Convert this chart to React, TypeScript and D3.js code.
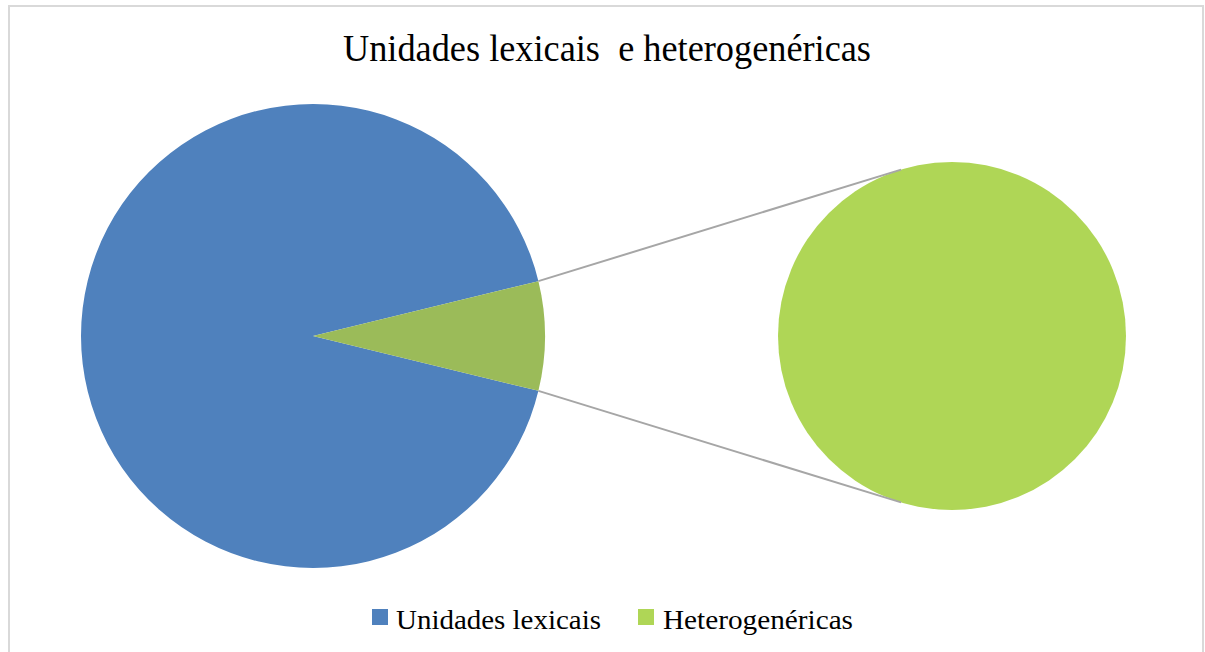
import React from "react";
import * as d3 from "d3";

const categories = ["Unidades lexicais", "Heterogenéricas"];
const values = [92.4, 7.6];
const secondaryValues = [7.6];
const title = "Unidades lexicais  e heterogenéricas";

const W = 1205;
const H = 652;
const BLUE = "#4f81bd";
const GREEN_MAIN = "#9bbb59";
const GREEN_SEC = "#afd656";

export default function App() {
  const total = d3.sum(values);
  const f = values[1] / total;
  const main = { cx: 313, cy: 336, r: 232 };
  const sec = { cx: 952, cy: 336, r: 174 };

  const start = Math.PI / 2 - Math.PI * f;
  const pieGen = d3
    .pie<number>()
    .sort(null)
    .value((d) => d)
    .startAngle(start)
    .endAngle(start + 2 * Math.PI);
  const arcs = pieGen([values[1], values[0]]);
  const arcMain = d3.arc<d3.PieArcDatum<number>>().innerRadius(0).outerRadius(main.r);

  const secArcs = d3.pie<number>().sort(null).value((d) => d)(secondaryValues);
  const arcSec = d3.arc<d3.PieArcDatum<number>>().innerRadius(0).outerRadius(sec.r);

  const greenArc = arcs[0];
  const pt = (c: { cx: number; cy: number; r: number }, a: number) => [
    c.cx + c.r * Math.sin(a),
    c.cy - c.r * Math.cos(a),
  ];
  const p1 = pt(main, greenArc.startAngle);
  const p2 = pt(main, greenArc.endAngle);
  const a = (17 * Math.PI) / 180;
  const q1 = pt(sec, -a);
  const q2 = pt(sec, Math.PI + a);

  const colors = [BLUE, GREEN_SEC];

  return (
    <svg
      width={W}
      height={H}
      style={{ position: "absolute", left: 0, top: 0, background: "#fff" }}
      fontFamily="'Liberation Serif', 'Times New Roman', serif"
    >
      <rect x={9} y={6} width={1194} height={700} fill="#fff" stroke="#d9d9d9" strokeWidth={2} />
      <text
        x={607}
        y={61}
        textAnchor="middle"
        fontSize={38}
        textLength={528}
        lengthAdjust="spacingAndGlyphs"
        fill="#000"
        style={{ whiteSpace: "pre" }}
      >
        {title}
      </text>
      <g transform={`translate(${main.cx},${main.cy})`}>
        <path d={arcMain(arcs[1]) as string} fill={BLUE} />
        <path d={arcMain(arcs[0]) as string} fill={GREEN_MAIN} />
      </g>
      <g transform={`translate(${sec.cx},${sec.cy})`}>
        {secArcs.map((d, i) => (
          <path key={i} d={arcSec(d) as string} fill={GREEN_SEC} />
        ))}
      </g>
      <line x1={p1[0]} y1={p1[1]} x2={q1[0]} y2={q1[1]} stroke="#a6a6a6" strokeWidth={2} />
      <line x1={p2[0]} y1={p2[1]} x2={q2[0]} y2={q2[1]} stroke="#a6a6a6" strokeWidth={2} />
      <g>
        <rect x={372} y={609} width={16} height={16} fill={colors[0]} />
        <text x={396} y={629} fontSize={28} textLength={205} lengthAdjust="spacingAndGlyphs" fill="#000">
          {categories[0]}
        </text>
        <rect x={638} y={609} width={16} height={16} fill={colors[1]} />
        <text x={663} y={629} fontSize={28} textLength={190} lengthAdjust="spacingAndGlyphs" fill="#000">
          {categories[1]}
        </text>
      </g>
    </svg>
  );
}
